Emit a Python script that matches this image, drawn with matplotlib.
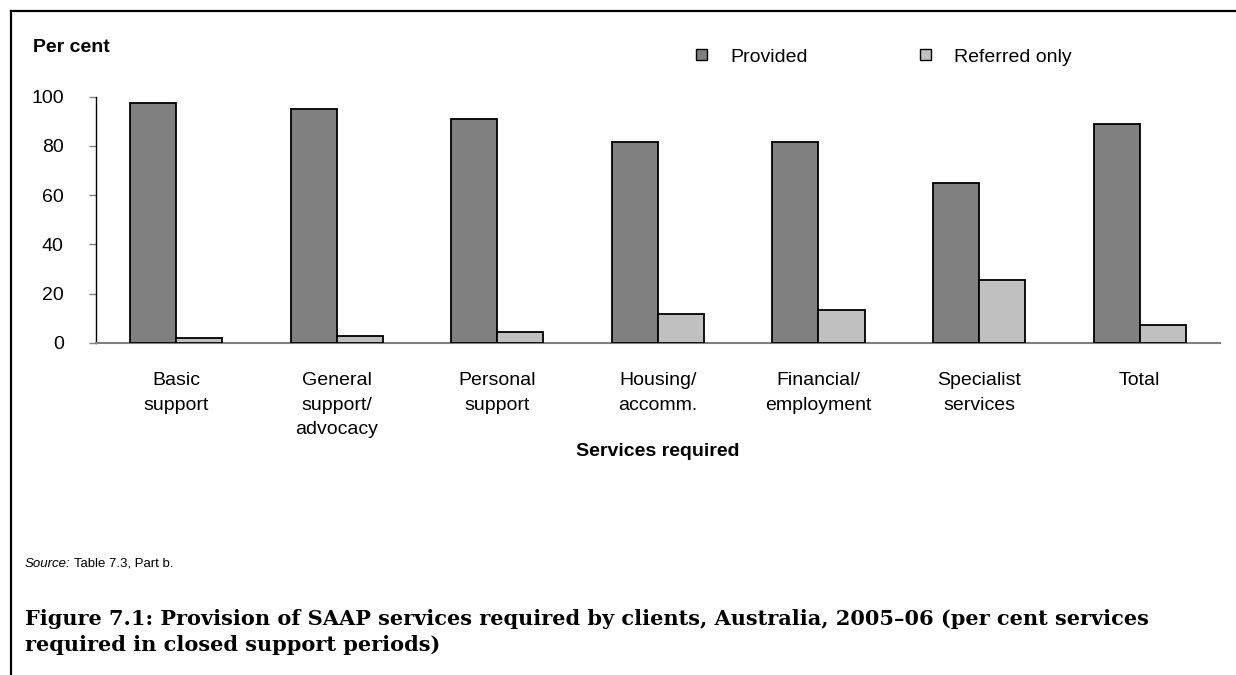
import matplotlib
matplotlib.use("Agg")
import matplotlib.pyplot as plt
import numpy as np
from matplotlib.lines import Line2D
from matplotlib.patches import Patch

categories = ["Basic\nsupport", "General\nsupport/\nadvocacy", "Personal\nsupport",
              "Housing/\naccomm.", "Financial/\nemployment", "Specialist\nservices", "Total"]
provided = [97.6, 95.1, 91.1, 81.5, 81.4, 65.0, 88.8]
referred = [1.8, 2.6, 4.2, 11.5, 13.1, 25.3, 7.3]
yticks = [0, 20, 40, 60, 80, 100]
series_names = ["Provided", "Referred only"]

plt.rcParams['font.family'] = ['Liberation Sans', 'DejaVu Sans']
FS = 14

W, H = 1236, 675
fig = plt.figure(figsize=(W / 100, H / 100), dpi=100)
ax = fig.add_axes([95.7 / W, 1 - 342.7 / H, (1220 - 95.7) / W, (342.7 - 96.7) / H])

x = np.arange(len(categories))
bw = 0.287
ax.bar(x - bw / 2, provided, bw, color="#808080", edgecolor="black", linewidth=1.3,
       label=series_names[0], zorder=3)
ax.bar(x + bw / 2, referred, bw, color="#C0C0C0", edgecolor="black", linewidth=1.3,
       label=series_names[1], zorder=3)

ax.set_xlim(-0.5, len(categories) - 0.5)
ax.set_ylim(0, 100)
ax.set_yticks(yticks)
ax.set_yticklabels([str(v) for v in yticks], fontsize=FS)
ax.set_xticks(x)
ax.set_xticklabels(categories, fontsize=FS, linespacing=1.6, va="top")
ax.tick_params(axis="x", length=0, pad=21)
ax.tick_params(axis="y", length=5, width=1, color="#808080", pad=18)
for s in ["top", "right"]:
    ax.spines[s].set_visible(False)
ax.spines["left"].set_color("black")
ax.spines["left"].set_linewidth(1)
ax.spines["bottom"].set_color("#808080")
ax.spines["bottom"].set_linewidth(1.5)

# legend
handles = [Patch(facecolor="#808080", edgecolor="black", linewidth=1),
           Patch(facecolor="#C0C0C0", edgecolor="black", linewidth=1)]
fig.legend(handles, series_names, loc="center left",
           bbox_to_anchor=(696 / W, 1 - 57 / H), ncol=2, frameon=False, fontsize=FS,
           borderpad=0, borderaxespad=0,
           handlelength=0.55, handleheight=0.55, handletextpad=1.2, columnspacing=5.8)

fig.text(33 / W, 1 - 47 / H, "Per cent", fontsize=FS, fontweight="bold", va="center", ha="left")
fig.text(658 / W, 1 - 452 / H, "Services required", fontsize=FS, fontweight="bold",
         va="center", ha="center")

src1 = fig.text(25 / W, 1 - 567 / H, "Source:", fontsize=9.5, fontstyle="italic",
                va="baseline", ha="left")
fig.canvas.draw()
bb = src1.get_window_extent()
fig.text((bb.x1 + 3) / W, 1 - 567 / H, "Table 7.3, Part b.", fontsize=9.5, va="baseline", ha="left")

fig.text(25 / W, 1 - 632 / H,
         "Figure 7.1: Provision of SAAP services required by clients, Australia, 2005\u201306 (per cent services\nrequired in closed support periods)",
         fontsize=15, fontweight="bold", family=["DejaVu Serif"],
         va="center", ha="left", linespacing=1.4)

# frame lines
fig.add_artist(Line2D([10.5 / W, 1], [1 - 10.5 / H, 1 - 10.5 / H], color="black", linewidth=1.6,
                      transform=fig.transFigure))
fig.add_artist(Line2D([10.5 / W, 10.5 / W], [0, 1 - 10.5 / H], color="black", linewidth=1.6,
                      transform=fig.transFigure))

fig.savefig("out.png", dpi=100)
